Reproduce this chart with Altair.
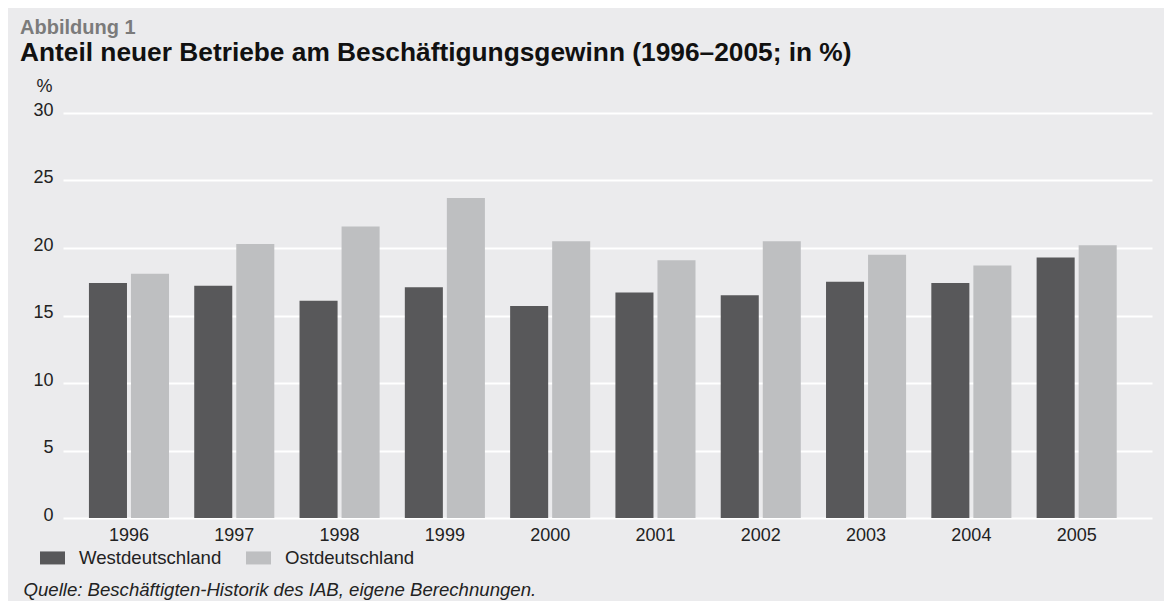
import altair as alt
import pandas as pd

years = ["1996", "1997", "1998", "1999", "2000", "2001", "2002", "2003", "2004", "2005"]
west = [17.4, 17.2, 16.1, 17.1, 15.7, 16.7, 16.5, 17.5, 17.4, 19.3]
east = [18.1, 20.3, 21.6, 23.7, 20.5, 19.1, 20.5, 19.5, 18.7, 20.2]
regions = ["Westdeutschland", "Ostdeutschland"]
colors = ["#58585a", "#bebfc1"]

rows = []
for i, y in enumerate(years):
    rows.append({"Jahr": y, "Region": regions[0], "Wert": west[i]})
    rows.append({"Jahr": y, "Region": regions[1], "Wert": east[i]})
df = pd.DataFrame(rows)

FONT = "Liberation Sans"

chart = alt.Chart(df).mark_bar().encode(
    x=alt.X(
        "Jahr:N",
        sort=years,
        scale=alt.Scale(paddingInner=0, paddingOuter=0.171, align=0.37),
        axis=alt.Axis(
            title="Quelle: Beschäftigten-Historik des IAB, eigene Berechnungen.",
            titleFontStyle="italic",
            titleFontWeight="normal",
            titleFontSize=18.6,
            titleColor="#222222",
            titleFont=FONT,
            titleAnchor="start",
            titleAlign="left",
            titleBaseline="alphabetic",
            titleX=-40,
            titleY=77,
            labelAngle=0,
            labelFontSize=18,
            labelColor="#222222",
            labelFont=FONT,
            labelPadding=8,
            ticks=False,
            domain=False,
            grid=False,
        ),
    ),
    xOffset=alt.XOffset(
        "Region:N",
        sort=regions,
        scale=alt.Scale(paddingInner=0.095, paddingOuter=0.30),
    ),
    y=alt.Y(
        "Wert:Q",
        scale=alt.Scale(domain=[0, 30], nice=False),
        axis=alt.Axis(
            values=[0, 5, 10, 15, 20, 25, 30],
            title="%",
            titleAngle=0,
            titleX=-19,
            titleY=-22,
            titleAlign="center",
            titleBaseline="alphabetic",
            titleFontWeight="normal",
            titleFontSize=18,
            titleColor="#222222",
            titleFont=FONT,
            labelFontSize=18,
            labelColor="#222222",
            labelFont=FONT,
            labelPadding=10,
            labelOffset=-3,
            ticks=False,
            domain=False,
            grid=True,
            gridColor="#ffffff",
            gridWidth=2,
            gridOpacity=1,
        ),
    ),
    color=alt.Color(
        "Region:N",
        sort=regions,
        scale=alt.Scale(domain=regions, range=colors),
        legend=alt.Legend(
            title=None,
            orient="none",
            legendX=-23,
            legendY=432,
            direction="horizontal",
            symbolType="M-1,-0.52H1V0.52H-1Z",
            symbolSize=625,
            symbolStrokeWidth=0,
            symbolOpacity=1,
            labelOffset=14,
            columnPadding=24,
            labelFontSize=18.6,
            labelColor="#222222",
            labelFont=FONT,
            padding=0,
        ),
    ),
).properties(
    width=1089,
    height=405,
    autosize=alt.AutoSizeParams(type="none"),
    padding={"left": 55, "top": 105, "right": 12, "bottom": 83},
    background="#ebebed",
    title=alt.TitleParams(
        text="Abbildung 1",
        subtitle="Anteil neuer Betriebe am Beschäftigungsgewinn (1996–2005; in %)",
        anchor="start",
        frame="group",
        dx=-43,
        font=FONT,
        fontSize=20,
        fontWeight="bold",
        color="#7b7b7b",
        subtitleFont=FONT,
        subtitleFontSize=26.3,
        subtitleFontWeight="bold",
        subtitleColor="#111111",
        subtitlePadding=2,
        offset=11,
    ),
).configure_view(stroke=None)

chart.save("out.html", embed_options={"renderer": "svg", "actions": False})
